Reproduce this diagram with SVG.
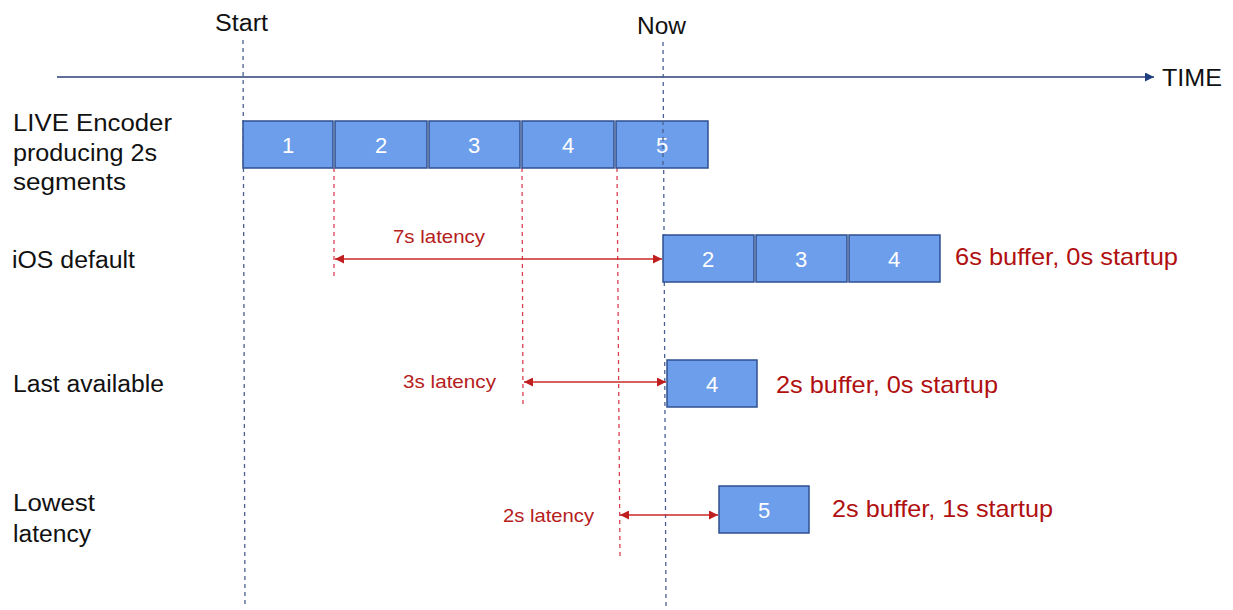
<svg xmlns="http://www.w3.org/2000/svg" width="1233" height="610" viewBox="0 0 1233 610">
  <style>
    text { font-family: "Liberation Sans", Arial, sans-serif; }
    .lbl { font-size: 23px; fill: #111; }
    .seg { fill: #6d9eeb; stroke: #2f4f8f; stroke-width: 1.5; }
    .segt { font-size: 22px; fill: #fff; text-anchor: middle; }
    .buf { font-size: 24px; fill: #b01010; }
    .lat { font-size: 18.5px; fill: #b52020; }
    .vblue { stroke: #4a6090; stroke-width: 1.3; stroke-dasharray: 4 4; fill: none; }
    .vred { stroke: #d84050; stroke-width: 1.3; stroke-dasharray: 4 4; fill: none; }
    .latline { stroke: #cc2a2a; stroke-width: 1.5; fill: none; marker-start: url(#ah); marker-end: url(#ah); }
  </style>
  <defs>
    <marker id="ah" viewBox="0 0 10 10" refX="10" refY="5" markerWidth="10" markerHeight="9" orient="auto-start-reverse" markerUnits="userSpaceOnUse">
      <path d="M0,0 L10,5 L0,10 z" fill="#c01f1f"/>
    </marker>
    <marker id="ta" viewBox="0 0 10 10" refX="10" refY="5" markerWidth="10" markerHeight="9" orient="auto" markerUnits="userSpaceOnUse">
      <path d="M0,0 L10,5 L0,10 z" fill="#1f3f7f"/>
    </marker>
  </defs>
  <rect width="1233" height="610" fill="#fff"/>

  <!-- time axis -->
  <g id="axis">
    <line x1="57" y1="77" x2="1154" y2="77" stroke="#2b3f78" stroke-width="1.5" marker-end="url(#ta)"/>
    <text x="1162" y="86" class="lbl" textLength="60" lengthAdjust="spacingAndGlyphs">TIME</text>
    <text x="215" y="31" class="lbl" textLength="53" lengthAdjust="spacingAndGlyphs">Start</text>
    <text x="637" y="34" class="lbl" textLength="49" lengthAdjust="spacingAndGlyphs">Now</text>
  </g>

  <!-- guide lines -->
  <g id="connectors">
    <line x1="243" y1="40" x2="245" y2="606" class="vblue"/>
    <line x1="663" y1="42" x2="666" y2="606" class="vblue"/>
    <line x1="334" y1="168" x2="334" y2="276" class="vred"/>
    <line x1="522" y1="168" x2="523" y2="406" class="vred"/>
    <line x1="617" y1="168" x2="620" y2="556" class="vred"/>
    <line x1="335" y1="259" x2="662" y2="259" class="latline"/>
    <line x1="524" y1="382" x2="666" y2="382" class="latline"/>
    <line x1="620" y1="515" x2="718" y2="515" class="latline"/>
  </g>

  <!-- encoder row -->
  <g id="encoder">
    <text x="13" y="131" class="lbl" textLength="159" lengthAdjust="spacingAndGlyphs">LIVE Encoder</text>
    <text x="13" y="161" class="lbl" textLength="144" lengthAdjust="spacingAndGlyphs">producing 2s</text>
    <text x="13" y="190" class="lbl" textLength="113" lengthAdjust="spacingAndGlyphs">segments</text>
    <rect x="243" y="121" width="90" height="47" class="seg"/>
    <rect x="335" y="121" width="92" height="47" class="seg"/>
    <rect x="429" y="121" width="91" height="47" class="seg"/>
    <rect x="522" y="121" width="92" height="47" class="seg"/>
    <rect x="616" y="121" width="92" height="47" class="seg"/>
    <text x="288" y="153" class="segt">1</text>
    <text x="381" y="153" class="segt">2</text>
    <text x="474" y="153" class="segt">3</text>
    <text x="568" y="153" class="segt">4</text>
    <text x="662" y="153" class="segt">5</text>
    <!-- the "Now" guide stays visible across segment 5 -->
    <line x1="663" y1="121" x2="663" y2="168" class="vblue"/>
  </g>

  <!-- iOS default row -->
  <g id="ios-default">
    <text x="12" y="268" class="lbl" textLength="123" lengthAdjust="spacingAndGlyphs">iOS default</text>
    <text x="393" y="243" class="lat" textLength="92" lengthAdjust="spacingAndGlyphs">7s latency</text>
    <rect x="663" y="235" width="91" height="47" class="seg"/>
    <rect x="756" y="235" width="91" height="47" class="seg"/>
    <rect x="849" y="235" width="91" height="47" class="seg"/>
    <text x="708" y="267" class="segt">2</text>
    <text x="801" y="267" class="segt">3</text>
    <text x="894" y="267" class="segt">4</text>
    <text x="955" y="265" class="buf" textLength="223" lengthAdjust="spacingAndGlyphs">6s buffer, 0s startup</text>
  </g>

  <!-- last available row -->
  <g id="last-available">
    <text x="13" y="392" class="lbl" textLength="151" lengthAdjust="spacingAndGlyphs">Last available</text>
    <text x="403" y="388" class="lat" textLength="93" lengthAdjust="spacingAndGlyphs">3s latency</text>
    <rect x="667" y="360" width="90" height="47" class="seg"/>
    <text x="712" y="392" class="segt">4</text>
    <text x="776" y="393" class="buf" textLength="222" lengthAdjust="spacingAndGlyphs">2s buffer, 0s startup</text>
  </g>

  <!-- lowest latency row -->
  <g id="lowest-latency">
    <text x="13" y="511" class="lbl" textLength="82" lengthAdjust="spacingAndGlyphs">Lowest</text>
    <text x="13" y="542" class="lbl" textLength="78" lengthAdjust="spacingAndGlyphs">latency</text>
    <text x="503" y="522" class="lat" textLength="91" lengthAdjust="spacingAndGlyphs">2s latency</text>
    <rect x="719" y="486" width="90" height="47" class="seg"/>
    <text x="764" y="518" class="segt">5</text>
    <text x="832" y="517" class="buf" textLength="221" lengthAdjust="spacingAndGlyphs">2s buffer, 1s startup</text>
  </g>
</svg>
